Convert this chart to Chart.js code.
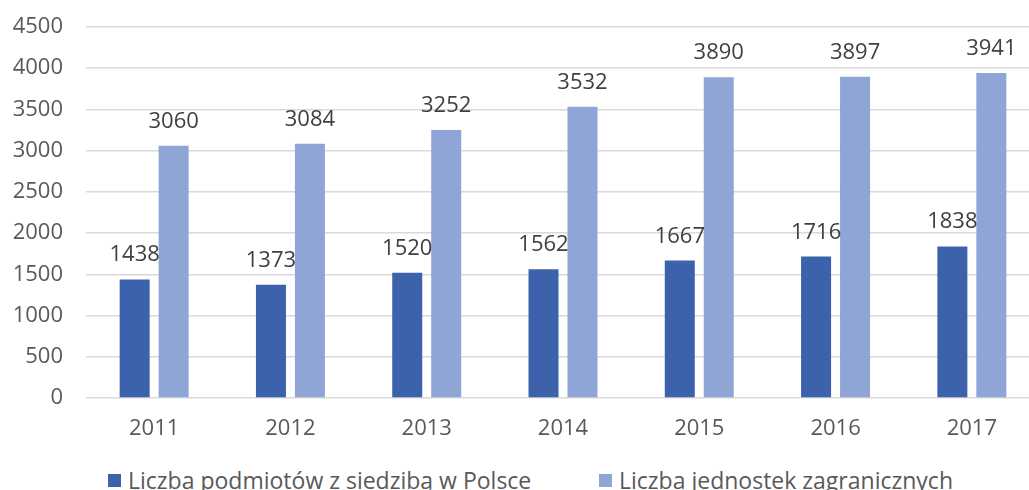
<!DOCTYPE html>
<html>
<head>
<meta charset="utf-8">
<script src="https://cdn.jsdelivr.net/npm/chart.js@4/dist/chart.umd.min.js"></script>
<style>
html,body{margin:0;padding:0;background:#fff;overflow:hidden;width:1029px;height:490px;}
#wrap{position:relative;width:1040px;height:459px;}
#legend{position:absolute;left:0;top:459px;width:1029px;height:31px;font-family:"Open Sans",sans-serif;font-size:23px;color:#595959;}
.item{position:absolute;top:0;height:42px;display:flex;align-items:center;white-space:nowrap;}
.box{width:13px;height:13px;margin-right:7px;flex:none;}
</style>
</head>
<body>
<div id="wrap"><canvas id="c" width="1040" height="459"></canvas></div>
<div id="legend"></div>
<script>
const categories = ['2011','2012','2013','2014','2015','2016','2017'];
const seriesNames = ['Liczba podmiotów z siedzibą w Polsce','Liczba jednostek zagranicznych'];
const domestic = [1438, 1373, 1520, 1562, 1667, 1716, 1838];
const foreign = [3060, 3084, 3252, 3532, 3890, 3897, 3941];
const colors = ['#3c62ab', '#8fa5d6'];
const legendLeft = [108, 599];

const FONT = '"Open Sans", sans-serif';

const valueLabels = {
  id: 'valueLabels',
  afterDatasetsDraw(chart) {
    const ctx = chart.ctx;
    ctx.save();
    ctx.font = '22px ' + FONT;
    ctx.fillStyle = '#404040';
    ctx.textAlign = 'center';
    ctx.textBaseline = 'alphabetic';
    chart.data.datasets.forEach((ds, i) => {
      chart.getDatasetMeta(i).data.forEach((bar, j) => {
        ctx.fillText(String(ds.data[j]), bar.x, bar.y - 18);
      });
    });
    ctx.restore();
  }
};

const chart = new Chart(document.getElementById('c'), {
  type: 'bar',
  data: {
    labels: categories,
    datasets: [
      { label: seriesNames[0], data: domestic, backgroundColor: colors[0] },
      { label: seriesNames[1], data: foreign, backgroundColor: colors[1] }
    ]
  },
  options: {
    responsive: false,
    animation: false,
    devicePixelRatio: 1,
    categoryPercentage: 0.572,
    barPercentage: 0.77,
    layout: { padding: { top: 27, right: 0, left: 0, bottom: 0 } },
    plugins: { legend: { display: false }, tooltip: { enabled: false } },
    scales: {
      x: {
        grid: { display: false },
        border: { display: false },
        ticks: { color: '#595959', font: { family: FONT, size: 22 }, padding: 10 },
        afterFit(s) { s.height = 61; s.paddingLeft = 0; s.paddingRight = 0; }
      },
      y: {
        min: 0, max: 4500,
        ticks: { stepSize: 500, color: '#595959', font: { family: FONT, size: 22 }, padding: 23,
                 callback: v => String(v) },
        grid: { color: '#d9d9d9', lineWidth: 1.5, drawTicks: false },
        border: { display: false },
        afterFit(s) { s.width = 86; s.paddingTop = 0; s.paddingBottom = 0; }
      }
    }
  },
  plugins: [valueLabels]
});

const lg = document.getElementById('legend');
seriesNames.forEach((name, i) => {
  const it = document.createElement('div');
  it.className = 'item';
  it.style.left = legendLeft[i] + 'px';
  const b = document.createElement('span');
  b.className = 'box';
  b.style.background = colors[i];
  const t = document.createElement('span');
  t.textContent = name;
  it.appendChild(b); it.appendChild(t);
  lg.appendChild(it);
});
</script>
</body>
</html>
